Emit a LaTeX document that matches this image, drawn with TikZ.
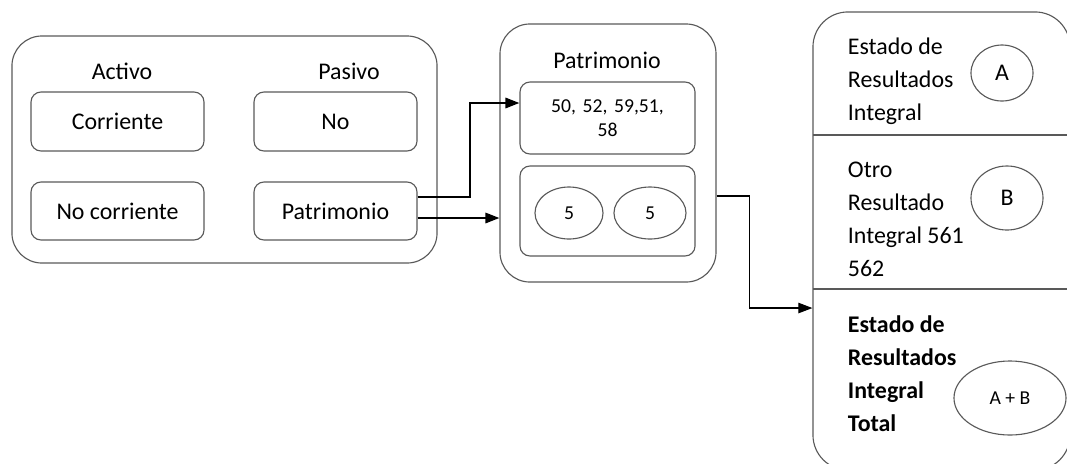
\documentclass[tikz,border=0pt]{standalone}
\usepackage{fontspec}
\setmainfont{Carlito}
\usetikzlibrary{arrows.meta,positioning,shapes.geometric}

\tikzset{
  bigbox/.style={draw=black!65,line width=.8pt,rounded corners=.75cm,inner sep=0pt},
  box/.style={draw=black!65,line width=.8pt,rounded corners=.25cm,inner sep=0pt,align=center},
  oval/.style={draw=black!65,line width=.8pt,ellipse,inner sep=0pt},
  arr/.style={line width=1.4pt,-{Triangle[length=3.5mm,width=2.6mm]}},
  thinarr/.style={line width=.8pt,-{Triangle[length=3.5mm,width=2.6mm]}},
  big/.style={font=\fontsize{17}{23.5}\selectfont},
  small/.style={font=\fontsize{14}{17.5}\selectfont}
}

\begin{document}
\begin{tikzpicture}[x=0.025cm,y=-0.025cm,big]
\useasboundingbox (0,0) rectangle (1067,463);
% balance
\node[bigbox,minimum width=10.625cm,minimum height=5.675cm] (bal) at (224.5,149.5) {};
\node (activo) at (122,71) {Activo};
\node (pasivo) at (349,71) {Pasivo};
\node[box,minimum width=4.325cm,minimum height=1.475cm] (corr) at (117.5,121.5) {Corriente};
\node[box,minimum width=4.075cm,minimum height=1.475cm] (no) at (335.5,121.5) {No};
\node[box,minimum width=4.325cm,minimum height=1.45cm] (nocorr) at (117.5,211) {No corriente};
\node[box,minimum width=4.075cm,minimum height=1.45cm] (patr) at (335.5,211) {Patrimonio};
% patrimonio
\node[bigbox,minimum width=5.4cm,minimum height=6.45cm] (mid) at (608,153) {};
\node (midtitle) at (607,60) {Patrimonio};
\node[box,small,minimum width=4.375cm,minimum height=1.8cm,text width=4cm] (cuentas) at (607.5,118) {50, 52, 59,51,\\58};
\node[box,minimum width=4.375cm,minimum height=2.25cm] (pair) at (607.5,211) {};
\node[oval,small,minimum width=1.7cm,minimum height=1.3cm] (cinco1) at (569,213) {5};
\node[oval,small,minimum width=1.8cm,minimum height=1.3cm] (cinco2) at (650,213) {5};
% resultados
\node[bigbox,rounded corners=.875cm,minimum width=6.425cm,minimum height=11.45cm] (res) at (941.5,241) {};
\coordinate (d1) at (813,135);
\coordinate (d2) at (813,289);
\draw[draw=black!65,line width=.8pt] (d1) -- (res.east |- d1);
\draw[draw=black!65,line width=.8pt] (d2) -- (res.east |- d2);
\node[anchor=west,align=left] (eri) at (843,81.5) {Estado de\\Resultados\\Integral};
\node[anchor=west,align=left] (ori) at (843,219) {Otro\\Resultado\\Integral 561\\562};
\node[anchor=west,align=left,font=\fontsize{17}{23.5}\selectfont\bfseries] (erit) at (843,373.5) {Estado de\\Resultados\\Integral\\Total};
\node[oval,minimum width=1.55cm,minimum height=1.4cm] (a) at (1002,73) {A};
\node[oval,minimum width=1.8cm,minimum height=1.6cm] (b) at (1007,198) {B};
\node[oval,small,minimum width=2.8cm,minimum height=1.85cm] (ab) at (1010,398) {A + B};
% conectores
\draw[arr] ([yshift=.35cm]patr.east) -- ++(1.3cm,0) |- ([yshift=.375cm]cuentas.west);
\draw[arr] ([yshift=-.175cm]patr.east) -- ([yshift=-.175cm]patr.east -| mid.west);
\draw[thinarr] ([yshift=-1.075cm]mid.east) -- ++(.825cm,0) |- ([yshift=-1.675cm]res.west);
\end{tikzpicture}
\end{document}
